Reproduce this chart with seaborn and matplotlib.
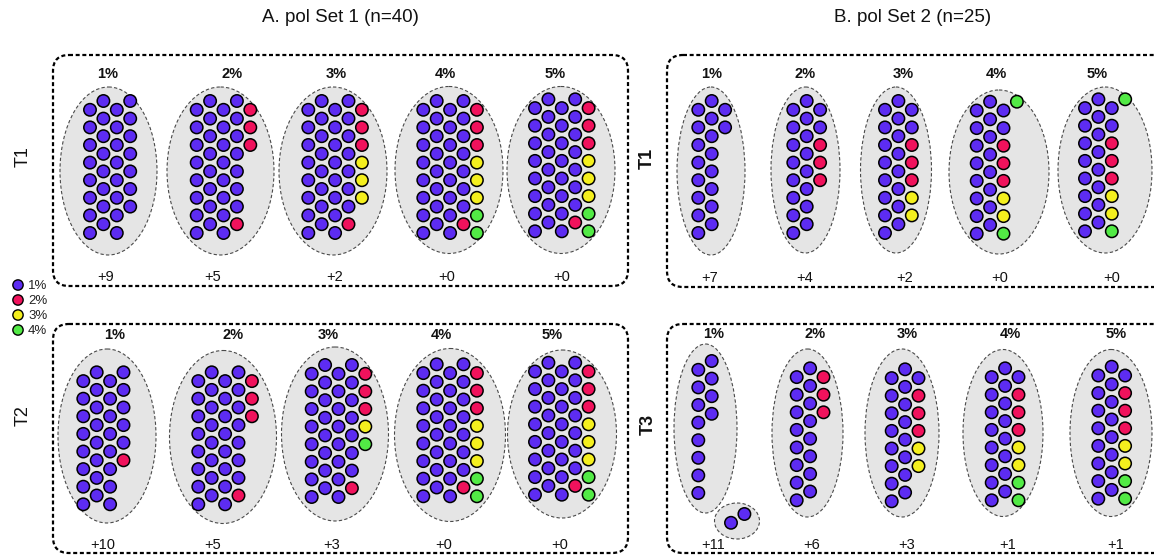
import matplotlib
matplotlib.use("Agg")
import matplotlib.pyplot as plt
from matplotlib.patches import Ellipse, FancyBboxPatch
import seaborn as sns
import pandas as pd

sns.set_theme(style="white")
plt.rcParams['font.family'] = ['Liberation Sans', 'DejaVu Sans']

# ------------------------------------------------------------------ data
levels = ["1%", "2%", "3%", "4%"]                 # colour legend
thresholds = ["1%", "2%", "3%", "4%", "5%"]       # cluster headers
code_to_level = {"P": "1%", "R": "2%", "Y": "3%", "G": "4%"}
titles = ["A. pol Set 1 (n=40)", "B. pol Set 2 (n=25)"]
row_labels = ["T1", "T2", "T1", "T3"]

# each cluster: list of columns, each column a top-to-bottom string of dot levels
A_T1_cols = [
    ["PPPPPPPP", "PPPPPPPP", "PPPPPPPP", "PPPPPPP"],
    ["PPPPPPPP", "PPPPPPPP", "PPPPPPPP", "PPPPPPPR", "RRR"],
    ["PPPPPPPP", "PPPPPPPP", "PPPPPPPP", "PPPPPPPR", "RRRYYY"],
    ["PPPPPPPP", "PPPPPPPP", "PPPPPPPP", "PPPPPPPR", "RRRYYYGG"],
    ["PPPPPPPP", "PPPPPPPP", "PPPPPPPP", "PPPPPPPR", "RRRYYYGG"],
]
A_T2_cols = [
    ["PPPPPPPP", "PPPPPPPP", "PPPPPPPP", "PPPPPR"],
    ["PPPPPPPP", "PPPPPPPP", "PPPPPPPP", "PPPPPPPR", "RRR"],
    ["PPPPPPPP", "PPPPPPPP", "PPPPPPPP", "PPPPPPPR", "RRRYG"],
    ["PPPPPPPP", "PPPPPPPP", "PPPPPPPP", "PPPPPPPR", "RRRYYYGG"],
    ["PPPPPPPP", "PPPPPPPP", "PPPPPPPP", "PPPPPPPR", "RRRYYYGG"],
]
B_T1_cols = [
    ["PPPPPPPP", "PPPPPPPP", "PP"],
    ["PPPPPPPP", "PPPPPPPP", "PPRRR"],
    ["PPPPPPPP", "PPPPPPPP", "PPRRRYY"],
    ["PPPPPPPP", "PPPPPPPP", "PPRRRYYG", "G"],
    ["PPPPPPPP", "PPPPPPPP", "PPRRRYYG", "G"],
]
B_T3_cols = [
    ["PPPPPPPP", "PPPP"],
    ["PPPPPPPP", "PPPPPPPP", "RRR"],
    ["PPPPPPPP", "PPPPPPPP", "PRRRYY"],
    ["PPPPPPPP", "PPPPPPPP", "PRRRYYGG"],
    ["PPPPPPPP", "PPPPPPPP", "PRRRYYGG"],
]
B_T3_detached = ["P", "P"]   # detached pair at 1%

A_T1_extra = ["+9", "+5", "+2", "+0", "+0"]
A_T2_extra = ["+10", "+5", "+3", "+0", "+0"]
B_T1_extra = ["+7", "+4", "+2", "+0", "+0"]
B_T3_extra = ["+11", "+6", "+3", "+1", "+1"]

# ------------------------------------------------------------------ layout (pixels)
W, H = 1154, 555
DX, DY = 13.4, 17.6
palette = {"1%": "#5d2cf2", "2%": "#f0125c", "3%": "#f4ef1e", "4%": "#52ea45"}

panels = [
    dict(cols=A_T1_cols, extra=A_T1_extra,
         x0=[90, 196.7, 308.3, 423.3, 535], y0=[101, 101, 101, 101, 99.3],
         ell=[(108.5, 171, 97, 168), (220.5, 171, 107, 168), (333, 171, 108, 168),
              (449, 170, 108, 167), (561, 170, 108, 167)],
         hx=[108, 232, 336, 445, 555], hy=74,
         ex=[106, 213, 335, 447, 562], ey=277),
    dict(cols=A_T2_cols, extra=A_T2_extra,
         x0=[83.3, 198.3, 311.7, 423.3, 535], y0=[372.3, 372.3, 365, 364.3, 362.7],
         ell=[(107, 436, 98, 174), (223, 437, 107, 173), (335, 434, 107, 174),
              (450, 435, 111, 173), (562, 434, 109, 168)],
         hx=[115, 233, 328, 441, 552], hy=335,
         ex=[103, 213, 332, 444, 560], ey=545),
    dict(cols=B_T1_cols, extra=B_T1_extra,
         x0=[698.3, 793.3, 885, 976.7, 1085], y0=[101, 101, 101, 101.7, 99.3],
         ell=[(711, 171, 68, 168), (805.5, 170, 69, 166), (896, 170, 71, 166),
              (999, 172, 100, 164), (1105, 170, 94, 166)],
         hx=[712, 805, 903, 996, 1097], hy=74,
         ex=[710, 805, 905, 1000, 1112], ey=278),
    dict(cols=B_T3_cols, extra=B_T3_extra,
         x0=[698.3, 796.7, 891.7, 991.7, 1098.3], y0=[361, 368.3, 369.3, 368.3, 366.7],
         ell=[(705.5, 428.5, 63, 169), (807.5, 433, 71, 168), (902, 433, 74, 168),
              (1003, 433, 80, 167), (1111, 433, 82, 167)],
         hx=[714, 815, 907, 1010, 1116], hy=334,
         ex=[713, 812, 907, 1008, 1116], ey=545),
]
detached = dict(x0=731, y0=514, ell=(737, 521, 45, 36))

boxes = [(53, 55, 575, 231), (53, 324, 575, 229), (667, 55, 520, 232), (667, 324, 520, 229)]
title_pos = [(340, 18), (913, 18)]
row_label_pos = [(23, 157, "normal"), (23, 416, "normal"), (647, 158, "bold"), (648, 424, "bold")]
legend_x, legend_y = 18, [285, 300, 315, 330]

# ------------------------------------------------------------------ build dots
rows = []
def add_cluster(cols, x0, y0):
    for c, col in enumerate(cols):
        for r, ch in enumerate(col):
            if ch == ".":
                continue
            rows.append(dict(x=x0 + c * DX,
                             y=y0 + (r + (0.5 if c % 2 == 0 else 0.0)) * DY,
                             level=code_to_level[ch]))

for p in panels:
    for k, cols in enumerate(p["cols"]):
        add_cluster(cols, p["x0"][k], p["y0"][k])
add_cluster(B_T3_detached, detached["x0"], detached["y0"])
dots = pd.DataFrame(rows)
legend_df = pd.DataFrame(dict(x=[legend_x] * len(levels), y=legend_y, level=levels))

# ------------------------------------------------------------------ draw
fig = plt.figure(figsize=(W / 100, H / 100), dpi=100)
ax = fig.add_axes([0, 0, 1, 1])

for (bx, by, bw, bh) in boxes:
    ax.add_patch(FancyBboxPatch((bx, by), bw, bh,
                                boxstyle="round,pad=0,rounding_size=16",
                                fill=False, ec="black", lw=1.6,
                                ls=(0, (1.8, 1.2)), zorder=1))

ells = [e for p in panels for e in p["ell"]] + [detached["ell"]]
for (cx, cy, ew, eh) in ells:
    ax.add_patch(Ellipse((cx, cy), ew, eh, fc="#e5e5e5", ec="#4a4a4a",
                         lw=0.8, ls=(0, (3, 2)), zorder=2))

sns.scatterplot(data=dots, x="x", y="y", hue="level", hue_order=levels,
                palette=palette, s=80, edgecolor="black", linewidth=1.1,
                legend=False, ax=ax, zorder=3)
sns.scatterplot(data=legend_df, x="x", y="y", hue="level", hue_order=levels,
                palette=palette, s=55, edgecolor="black", linewidth=1.0,
                legend=False, ax=ax, zorder=3)
for lv, ly in zip(levels, legend_y):
    ax.text(legend_x + 10, ly + 1, lv, ha="left", va="center", fontsize=9.5, color="#222222")

for p in panels:
    for k, th in enumerate(thresholds):
        ax.text(p["hx"][k], p["hy"], th, ha="center", va="center",
                fontsize=10.5, fontweight="bold", color="#111111")
        ax.text(p["ex"][k], p["ey"], p["extra"][k], ha="center", va="center",
                fontsize=10.5, color="#111111")

for t, (tx, ty) in zip(titles, title_pos):
    ax.text(tx, ty, t, ha="center", va="center", fontsize=13.5, color="#111111")
for lab, (lx, ly, wt) in zip(row_labels, row_label_pos):
    ax.text(lx, ly, lab, ha="center", va="center", rotation=90,
            fontsize=13, fontweight=wt, color="#111111")

ax.set_xlim(0, W)
ax.set_ylim(H, 0)
ax.axis("off")
fig.savefig("out.png", dpi=100, facecolor="white")
